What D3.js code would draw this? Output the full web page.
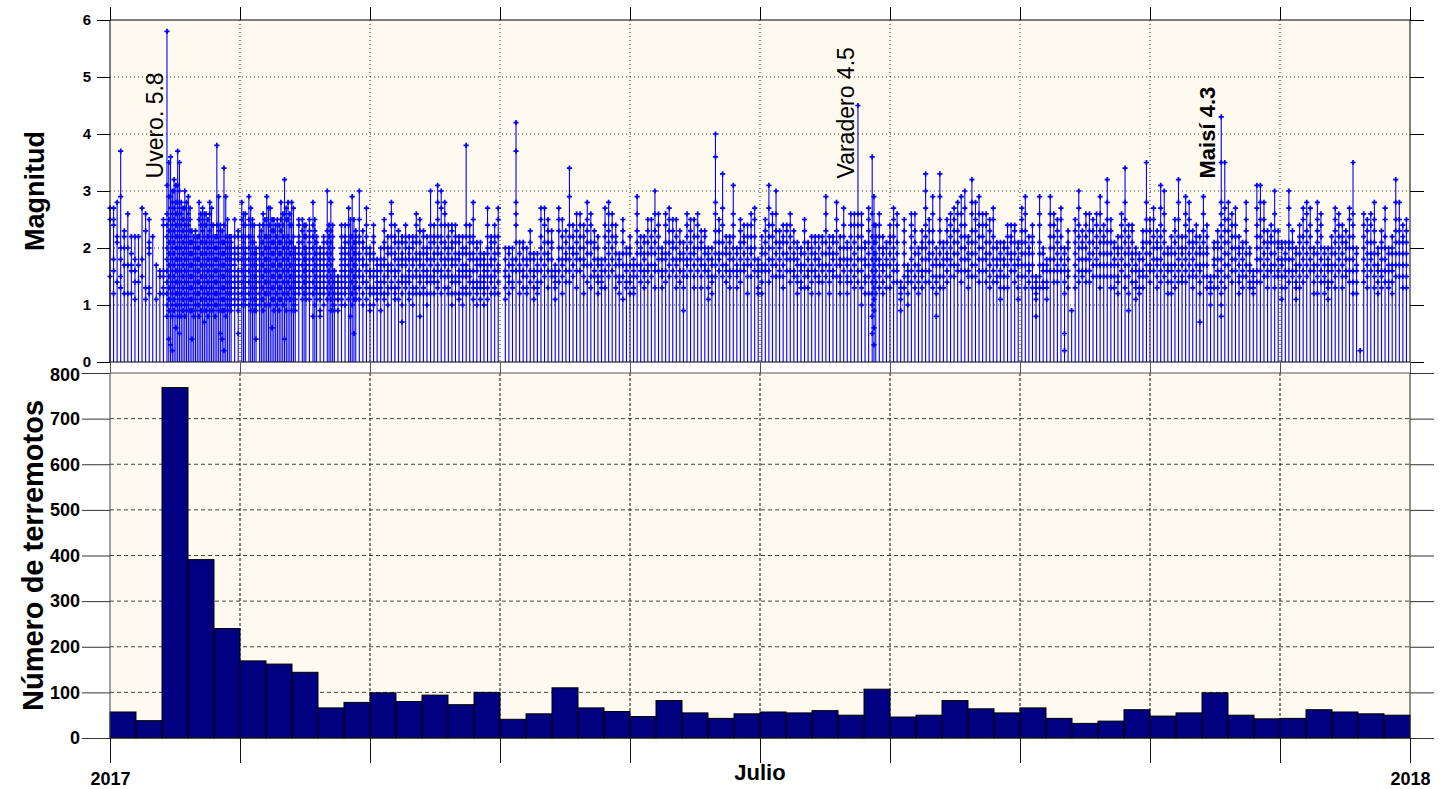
<!DOCTYPE html>
<html><head><meta charset="utf-8">
<script src="https://cdn.jsdelivr.net/npm/d3@7"></script>
<style>body{margin:0;background:#fff}svg{display:block}</style>
</head><body><svg id="c" width="1441" height="789"></svg>
<script>
// ---------------- data ----------------
const yearStart = "2017-01-01", yearEnd = "2018-01-01";
const xTickLabels = ["2017","","","","","","","","","","2018"];
const xTitle = "Julio";
const magTicks = [0,1,2,3,4,5,6];
const countTicks = [0,100,200,300,400,500,600,700,800];
const magTitle = "Magnitud";
const countTitle = "Número de terremotos";
// earthquakes per bin (50 equal bins over the year)
const binCounts = [57,38,768,391,240,169,162,144,66,78,
                   99,80,94,73,100,41,53,110,66,58,
                   47,82,55,43,53,57,55,60,50,107,
                   46,50,82,64,55,66,43,32,37,62,
                   48,55,99,50,42,43,62,57,53,50];
// magnitudes (tenths) recorded each day, day 0 = 1 Jan 2017
const dailyMags = [
"27 25 15","27 25 24 18 16 12","28 22 21 14","37 29 20 18 15 13","23 22 20 17 12","26 20 17 12","22 19 17 16 12","22 18 16 14 11","22 17 14","27 18 15",
"26 23 13 11","25 21 20 19 13 12","22","17 11","16 15 12","25 24 16 15 13 12",
"58 35 31 29 26 25 24 23 22 21 20 19 18 17 16 15 14 13 12 11 10 09 08 04",
"36 30 29 28 27 26 25 24 23 22 21 20 19 18 17 16 15 14 13 12 11 10 09 08 03 02",
"32 31 30 28 27 26 25 24 23 22 21 20 19 18 17 16 15 14 13 12 11 10 09 06",
"37 35 31 30 28 27 26 25 24 23 22 21 20 19 18 17 16 15 14 13 12 11 10 09 08 05",
"28 27 26 25 24 23 22 21 20 19 18 17 16 15 14 13 12 11 10 09 08",
"30 28 27 25 24 23 22 21 20 19 18 17 16 15 14 13 12 11 10 09 08",
"29 27 26 25 24 23 22 21 20 19 18 17 16 15 14 13 12 11 10 09",
"23 22 21 20 19 18 17 16 15 14 13 12 11 10 09 08 04",
"23 22 21 20 19 18 17 16 15 14 13 12 11 10 09",
"28 26 25 24 22 21 20 19 18 17 16 15 14 13 12 11 10 09 08",
"27 26 25 24 23 22 21 20 19 18 17 16 15 14 13 12 11 10 09 07",
"26 25 24 22 21 20 19 18 17 16 15 14 13 12 11 10 09 08",
"28 27 26 24 23 22 21 20 19 18 17 16 15 14 13 12 11 10 09",
"24 22 21 20 19 18 17 16 15 14 13 12 11 10 09 08",
"38 29 24 23 22 21 20 19 18 17 16 15 14 13 12 11 10 09",
"24 23 22 21 20 19 18 17 16 15 14 13 12 11 10 09 05 04",
"34 29 24 22 21 20 19 18 17 16 15 14 13 12 11 10 09 08 02",
"25 22 21 20 19 18 17 16 15 14 13 12 11 10 09",
"22 21 20 19 18 17 16 15 14 13 12 11 10 09",
"25 22 20 19 18 17 16 15 14 13 12 11 10",
"23 22 20 19 18 16 15 14 13 12 11 10 09 05",
"28 26 25 24 22 21 20 19 18 17 16 15 14 13 12 11 10",
"26 24 22 20 19 18 17 16 15 14 13 12 11 10",
"29 27 25 24 22 21 20 19 18 17 16 15 14 13 12 11 10 09",
"25 24 22 21 20 19 18 17 16 15 14 13 12 11 10 09",
"20 19 18 17 16 15 14 13 12 11 10 09 04",
"24 23 22 21 20 19 18 17 16 15 14 13 12 11 10",
"26 25 24 22 21 20 19 18 17 16 15 14 13 12 11 10 09",
"29 27 25 24 22 21 20 19 18 17 16 15 14 13 12 10",
"27 25 24 23 22 21 20 19 18 17 16 15 14 13 12 11 10 06",
"25 24 23 22 21 20 19 18 17 16 15 14 13 12 11 10 09",
"25 24 22 21 20 19 18 17 16 15 14 13 12 11 10 09",
"28 26 25 24 23 22 21 20 19 18 17 16 15 14 13 12 11 10",
"32 27 26 25 22 21 20 19 18 17 16 15 14 13 12 11 10 09 04",
"28 26 25 24 22 21 20 19 18 17 16 15 14 13 12 11",
"28 27 24 22 21 20 19 18 17 16 15 14 13 12 11 10 09",
"20 19 18 17 16 15 14 13 12 11 10 09",
"25 24 22 21 20 19 18 17 16 15 14 13 12",
"25 24 23 22 21 20 19 18 17 16 15 14 13 12 11",
"24 22 20 19 18 17 16 15 14 13 12 11",
"25 23 22 21 20 19 18 17 16 15 14 13 12 11",
"28 25 24 23 22 21 20 19 18 17 16 15 14 13 12 10 08",
"22 21 20 19 18 17 16 15 14 13 12 11",
"20 19 18 17 16 15 14 13 12 11 09 08",
"22 21 20 19 18 17 16 15 14 13 12 10",
"30 24 23 22 21 20 19 18 17 16 15 14 13 12 11",
"28 24 23 22 21 20 19 18 17 16 15 14 13 12 11 10 09",
"16 15 14 13 12 11 10 09","15 14 13 12 11 09",
"24 22 20 19 18 17 16 15 14 13 12 11 10",
"24 22 21 20 19 18 17 16 15 14 13 12 10",
"27 25 24 22 21 20 19 18 17 16 15 14 13 12 11 08",
"29 25 22 21 20 19 18 17 16 15 14 13 12 11 10 05",
"23 22 21 20 19 18 17 16 15 14 13 12 11",
// 70
"30 25 22 21 19 18 16 15 13 11","23 21 20 18 17 15 14 12 10","27 24 22 20 19 17 16 14 13 11","20 19 18 16 15 13 12 10 09","24 22 21 19 18 16 15 13 12 10",
"18 17 16 15 14 13 12 11","20 18 17 16 14 13 12 09","25 23 21 20 18 17 15 14 12 11","22 20 19 17 16 15 13 12 10","28 26 24 22 20 19 17 16 14 13",
"24 22 21 19 18 16 15 13 12 11","23 21 20 18 17 16 14 13 11","22 21 19 18 17 15 14 12 10 07","24 22 21 20 18 17 15 14 13","22 20 19 18 16 15 14 12 11",
"22 21 20 18 17 15 13 12 10","26 24 22 21 19 18 16 15 13 12","25 23 21 19 18 17 15 14 12 08","23 22 20 19 17 16 15 13 12","22 20 19 18 16 15 14 12 10",
"30 24 22 21 20 18 17 15 14 12","24 22 21 19 18 16 15 14 12","31 28 25 22 20 19 17 16 14 13","30 27 24 22 21 19 18 16 15 12","28 26 24 21 20 18 17 15 13",
"24 22 20 19 18 16 15 13 12","24 23 21 20 18 17 15 14 12 10","24 22 21 19 18 17 15 14 12","22 21 19 18 16 15 14 12 11","22 20 19 17 16 15 13 12 10",
// 100
"38 24 22 20 19 17 16 15 13 12","24 22 21 19 18 16 15 14 12","28 25 22 21 19 18 16 14 13 11","21 20 18 17 16 14 13 12 10","21 19 18 17 15 14 13 11",
"19 18 17 16 15 14 13 12 10","27 24 22 20 19 17 16 15 13 11","22 21 20 18 17 15 14 12","24 22 21 19 18 16 15 13 12","27 25 22 20 19 17 16 14 12",
"","20 18 16 15 13 11","20 19 17 15 14 12","20 18 17 16 14 13","42 37 28 26 24 21 18 16",
"21 19 17 16 14 12","21 20 18 16 15 13","20 18 17 15 13 12","23 21 19 18 16 14","19 18 16 15 13 11",
"19 17 16 14 13 12","27 25 22 20 18 16 14","27 24 21 19 17 15","25 23 21 19 18 16 13","23 21 20 18 16 15",
"17 16 15 14 13 11","27 25 23 20 18 16 14","25 22 20 18 17 15 12","23 21 19 18 16 14","34 29 24 22 20 18 16 14",
// 130
"24 22 20 19 17 15","26 23 21 19 18 16 13","26 24 22 20 18 16","24 22 20 18 17 15 12","28 25 23 21 19 17 14",
"26 24 21 19 17 15 13","23 21 20 18 16 15","22 20 18 17 15 14 12","18 17 16 15 14 13","27 24 22 20 18 16 13",
"28 26 23 21 19 17 15","26 24 22 20 18 16","24 22 21 19 17 15 13","19 18 17 15 14 12","25 23 21 19 17 15 11",
"20 19 17 16 14 13","22 20 19 17 15 14 12","18 17 16 15 13 12","29 26 23 21 19 17 15","22 20 19 17 16 14",
"22 21 19 18 16 15 13","25 23 21 19 17 16 14","25 22 20 19 17 15","30 26 23 21 19 17 16 13","26 24 22 20 18 16",
"20 19 18 16 15 13","26 24 21 19 18 16 14","27 25 23 21 19 17 15","25 23 21 20 18 16","25 22 20 18 17 15 13",
// 160
"23 21 19 18 16 14","21 19 18 16 15 13 09","26 24 22 20 18 17 15","25 23 21 19 18 16","25 22 20 19 17 15 13",
"26 24 22 20 18 16","23 21 20 18 17 15 13","23 22 20 19 17 16","20 19 18 16 15 13 11","20 18 17 15 14 12",
"40 36 28 26 23 21 19 17 15","25 23 21 19 18 16","33 27 24 21 19 17 15","22 20 19 17 16 14","22 21 19 18 16 15 13",
"31 26 24 22 20 18 16","20 19 17 16 15 13","25 23 21 20 18 16 14","24 22 21 19 17 16","24 22 20 18 17 15 12",
"26 24 22 20 19 17 15","27 25 22 20 18 16","18 17 16 15 13 12","22 20 19 17 16 14 12","25 23 21 19 17 16",
"31 27 24 22 20 18 16 14","26 24 22 20 18 17 15","30 26 23 21 19 17 15","23 21 20 18 16 15","24 22 21 19 17 15 13",
// 190
"24 23 21 19 18 16","26 24 22 20 18 16 14","23 21 19 18 16 15","21 20 18 17 15 14 12","20 19 17 16 14 13",
"25 23 21 19 17 15 13","21 20 18 16 15 13","22 20 19 17 16 14 12","22 21 19 18 16 15","22 20 18 17 15 14 12",
"22 21 19 17 16 14","29 26 23 21 19 17 15","22 20 19 17 16 14 12","22 21 19 18 16 15","28 25 23 21 19 17 15",
"22 20 18 17 15 14 12","27 24 22 20 18 16","21 20 18 17 15 14 12","26 24 22 20 18 16 14","26 24 21 19 17 15 13",
"45 26 24 22 20 18 16 14","26 24 22 20 18 16 13 10","21 20 18 17 15 14 12","27 25 23 21 19 17 15 12",
"36 29 26 24 22 21 20 19 18 17 16 15 14 13 12 11 10 09 08 06 05 03",
"24 22 21 19 18 16 14 12","26 24 22 20 18 17 15 13","22 20 19 17 16 14 12","21 20 18 17 15 13","24 22 21 19 17 15 13",
// 220
"27 25 22 20 18 16 14","26 24 21 19 17 16 14","14 13 12 11 09","25 23 21 19 17 15 13","17 16 15 14 12 10",
"26 24 22 20 18 16 14","26 23 21 19 17 15 13","20 19 17 16 14 12","23 21 20 18 16 15 13","33 30 27 24 22 20 18 16 14",
"25 23 21 19 18 16 14","29 26 23 21 19 17 15 13","20 18 17 15 14 12 08","33 29 25 23 21 19 17 15 13","21 20 18 17 15 13",
"25 23 21 19 18 16 14","26 24 22 20 18 17 15","27 25 23 21 19 17 15","28 26 23 21 19 17 16","29 26 24 22 20 18 16 14",
"30 27 24 22 20 18 16","22 21 19 18 16 15 13","32 28 26 23 21 19 17 15","28 25 23 21 19 17 15","29 26 24 22 20 18 16 14",
"26 24 22 20 18 16","26 24 21 19 18 16 14","25 23 21 19 17 15 13","27 25 22 20 18 16 14","21 20 18 17 15 14",
// 250
"21 19 18 16 15 13 11","21 20 18 17 15 13","24 22 20 19 17 15 13","24 22 21 19 18 16","24 23 21 19 17 16 14",
"21 20 18 17 15 13 11","27 25 23 21 19 17 15","29 26 23 21 19 17 15 13","22 20 19 17 16 14","24 22 21 19 17 15 13",
"15 14 13 12 11 08","29 26 24 21 19 17 15 13","20 19 17 16 14 13","18 17 16 14 13 11","29 26 24 22 20 18 16",
"26 24 22 20 18 16 14","25 23 21 19 17 16 14","27 25 22 20 18 16","20 19 17 16 14 12 05 02","23 21 20 18 16 15 13",
"09","25 23 21 19 17 15 13","30 27 24 22 20 18 16 14","23 21 20 18 16 15","26 24 22 20 18 16 14",
"26 23 21 19 18 16 14","25 23 21 19 17 15","26 24 22 20 18 17 15","29 26 23 21 19 17 15 13","24 22 21 19 17 15",
// 280
"32 28 25 23 21 19 17 15","25 23 21 19 17 15 13","21 20 18 17 15 13","22 20 19 17 15 14 12","26 24 22 20 18 16",
"34 28 25 23 21 19 17 15 13","24 22 20 19 17 15 12 09","24 23 21 19 18 16 14","20 19 17 16 14 13 11","19 18 16 15 13 12",
"23 21 20 18 16 15 13","35 28 25 23 21 19 17 15","25 23 21 19 17 16 14","27 25 22 20 18 16","23 21 20 18 17 15 13",
"31 27 24 22 20 18 16 14","30 26 23 21 19 17 15","20 19 17 16 14 12","22 20 19 17 16 14 12","25 23 21 19 17 15 13",
"32 28 25 22 20 18 16 14","22 20 19 17 15 14","29 26 24 22 20 18 16 14","28 25 23 21 19 17 15","23 21 20 18 16 15 13",
"24 22 21 19 17 15","22 20 19 17 16 14 12 07","29 26 23 21 19 17 15","24 22 20 19 17 15 13","15 14 13 12 10",
// 310
"21 20 18 17 15 13","23 21 20 18 16 15 13","43 35 28 26 24 22 20 18 16 14 12 10 08","35 27 25 23 21 19 17 15 13","28 25 23 21 19 17 15",
"26 24 22 20 18 16 14","27 24 22 20 18 16","22 20 19 17 15 14 12","21 20 18 16 15 13","28 25 23 21 19 17 15",
"20 19 17 16 14 13","16 15 14 13 12","31 27 24 22 20 18 16 14","31 28 25 22 20 18 16 14","28 25 23 21 19 17 15",
"23 21 20 18 16 15 13","24 22 21 19 17 16","30 26 23 21 19 17 15 13","23 21 20 18 16 15","21 20 18 17 15 13 11",
"21 19 18 16 15 13","30 27 24 21 20 18 16 14","23 21 20 18 16 15","20 19 17 16 14 13 11","24 22 21 19 17 15 13",
"27 25 22 20 18 16 14","28 26 23 21 19 17 15","27 24 22 20 18 16","20 19 17 16 14 12","28 25 23 21 19 17 15 12",
// 340
"26 24 22 20 18 16 14","20 19 17 15 14 12","20 18 17 16 14 13 11","22 20 19 17 16 14","27 25 23 21 19 17 15 13",
"26 24 22 20 18 16","24 22 21 19 17 15 13","23 21 20 18 16 15","27 25 22 20 18 16 14","35 26 24 22 20 18 16 14 12",
"20 19 17 16 14 12","02","26 24 22 20 18 16 14","25 23 21 19 17 15 13","26 24 21 19 18 16",
"28 25 23 21 19 17 15 13","20 19 17 16 14 12","23 21 20 18 16 15 13","27 25 22 20 18 16 14","20 19 17 16 14 13",
"22 20 19 17 16 14 12","32 28 25 23 21 19 17 15","28 25 23 21 19 17 15","24 22 21 19 17 15 13","25 23 21 19 17 15 13"
];
const annotations = [
  {text:"Uvero. 5.8", day:16, bold:false},
  {text:"Varadero 4.5", day:210, bold:false},
  {text:"Maisí 4.3", day:312, bold:true}
];

// ---------------- layout ----------------
const L = 110, R = 1410;
const T1 = 20, B1 = 362, T2 = 373, B2 = 738;
const cream = "#FFFAF0";
const FONT = "Liberation Sans, Arial, sans-serif";
const svg = d3.select("#c");
const parse = d3.utcParse("%Y-%m-%d");
const t0 = parse(yearStart), t1 = parse(yearEnd);
const span = t1 - t0, DAY = 864e5;
const x = d3.scaleUtc().domain([t0, t1]).range([L, R]);
const xTicks = xTickLabels.map((_, i) => new Date(+t0 + span * i / (xTickLabels.length - 1)));
const yMag = d3.scaleLinear().domain([0, 6]).range([B1, T1]);
const yCnt = d3.scaleLinear().domain([0, 800]).range([B2, T2]);

// ---------------- top panel ----------------
const g1 = svg.append("g");
g1.append("rect").attr("x", L).attr("y", T1).attr("width", R - L).attr("height", B1 - T1).attr("fill", cream);
g1.selectAll("line.hg").data(magTicks.slice(1, -1)).join("line")
  .attr("x1", L).attr("x2", R).attr("y1", d => yMag(d)).attr("y2", d => yMag(d))
  .attr("stroke", "#333").attr("stroke-dasharray", "1,3");
g1.selectAll("line.vg").data(xTicks.slice(1, -1)).join("line")
  .attr("x1", d => x(d)).attr("x2", d => x(d)).attr("y1", T1).attr("y2", B1)
  .attr("stroke", "#333").attr("stroke-dasharray", "1,3");

// events -> columns
const cols = [];
dailyMags.forEach((s, d) => {
  if (!s.trim()) return;
  const m = s.trim().split(/\s+/).map(v => +v / 10).sort((a, b) => b - a);
  const nCol = m.length >= 15 ? 2 : 1;
  for (let c = 0; c < nCol; c++) {
    const mm = m.filter((_, i) => i % nCol === c);
    cols.push({date: new Date(+t0 + (d + c / nCol) * DAY), mags: mm});
  }
});
g1.append("g").selectAll("line").data(cols).join("line")
  .attr("x1", d => x(d.date)).attr("x2", d => x(d.date))
  .attr("y1", yMag(0)).attr("y2", d => yMag(d.mags[0]))
  .attr("stroke", "#0000FF").attr("stroke-width", 1.1);
const sym = d3.symbol(d3.symbolCross, 15);
const pts = cols.flatMap(c => c.mags.map(m => ({date: c.date, m})));
g1.append("g").selectAll("path").data(pts).join("path")
  .attr("transform", d => `translate(${x(d.date)},${yMag(d.m)})`)
  .attr("d", sym).attr("fill", "#0000FF");

// frame + axes (top)
const frame1 = g1.append("g").attr("stroke", "#000").attr("fill", "none");
frame1.append("line").attr("x1", L).attr("x2", R).attr("y1", T1).attr("y2", T1);
frame1.append("line").attr("x1", L).attr("x2", R).attr("y1", B1).attr("y2", B1);
frame1.append("line").attr("x1", L).attr("x2", L).attr("y1", T1).attr("y2", B1);
frame1.append("line").attr("x1", R).attr("x2", R).attr("y1", T1).attr("y2", B1);

function style(ax, col) {
  ax.select(".domain").remove();
  ax.selectAll(".tick line").attr("stroke", col || "#000");
}
const ay1 = g1.append("g").attr("transform", `translate(${L},0)`)
  .call(d3.axisLeft(yMag).tickValues(magTicks).tickSize(13).tickPadding(6).tickFormat(d3.format("d")));
style(ay1);
ay1.selectAll("text").attr("font-family", FONT).attr("font-weight", "bold").attr("font-size", 15).attr("fill", "#000");
const ay1r = g1.append("g").attr("transform", `translate(${R},0)`)
  .call(d3.axisRight(yMag).tickValues(magTicks).tickSize(14).tickFormat(""));
style(ay1r);
const ax1t = g1.append("g").attr("transform", `translate(0,${T1})`)
  .call(d3.axisTop(x).tickValues(xTicks).tickSize(13).tickFormat(""));
style(ax1t);
const ax1b = g1.append("g").attr("transform", `translate(0,${B1})`)
  .call(d3.axisBottom(x).tickValues(xTicks).tickSize(8).tickFormat(""));
style(ax1b, "#555");

// annotations
annotations.forEach(a => {
  const xx = x(new Date(+t0 + a.day * DAY)) - (a.bold ? 6 : 4);
  const yy = yMag(3.22);
  g1.append("text").attr("transform", `translate(${xx},${yy}) rotate(-90)`)
    .attr("font-family", FONT)
    .attr("font-size", a.bold ? 22 : 23).attr("font-weight", a.bold ? "bold" : "normal")
    .attr("fill", "#000").text(a.text);
});
svg.append("text").attr("transform", `translate(44,${(T1 + B1) / 2}) rotate(-90)`)
  .attr("text-anchor", "middle").attr("font-family", FONT)
  .attr("font-weight", "bold").attr("font-size", 27).text(magTitle);

// ---------------- bottom panel ----------------
const g2 = svg.append("g");
g2.append("rect").attr("x", L).attr("y", T2).attr("width", R - L).attr("height", B2 - T2).attr("fill", cream);
g2.selectAll("line.hg").data(countTicks.slice(1, -1)).join("line")
  .attr("x1", L).attr("x2", R).attr("y1", d => yCnt(d)).attr("y2", d => yCnt(d))
  .attr("stroke", "#444").attr("stroke-dasharray", "4,3");
g2.selectAll("line.vg").data(xTicks.slice(1, -1)).join("line")
  .attr("x1", d => x(d)).attr("x2", d => x(d)).attr("y1", T2).attr("y2", B2)
  .attr("stroke", "#111").attr("stroke-dasharray", "3,2");
const nb = binCounts.length;
g2.append("g").selectAll("rect").data(binCounts).join("rect")
  .attr("x", (d, i) => x(new Date(+t0 + span * i / nb)))
  .attr("width", (d, i) => x(new Date(+t0 + span * (i + 1) / nb)) - x(new Date(+t0 + span * i / nb)))
  .attr("y", d => yCnt(d)).attr("height", d => yCnt(0) - yCnt(d))
  .attr("fill", "#000080").attr("stroke", "#000").attr("stroke-width", 1);
const frame2 = g2.append("g").attr("fill", "none");
frame2.append("line").attr("x1", L).attr("x2", R).attr("y1", T2).attr("y2", T2).attr("stroke", "#555");
frame2.append("line").attr("x1", L).attr("x2", R).attr("y1", B2).attr("y2", B2).attr("stroke", "#222");
frame2.append("line").attr("x1", L).attr("x2", L).attr("y1", T2).attr("y2", B2).attr("stroke", "#444");
frame2.append("line").attr("x1", R).attr("x2", R).attr("y1", T2).attr("y2", B2).attr("stroke", "#222");

const ay2 = g2.append("g").attr("transform", `translate(${L},0)`)
  .call(d3.axisLeft(yCnt).tickValues(countTicks).tickSize(28).tickPadding(2));
style(ay2, "#333");
ay2.selectAll("text").attr("font-family", FONT).attr("font-weight", "bold").attr("font-size", 18).attr("fill", "#000");
ay2.selectAll(".tick").filter(d => d === 800).select("text").attr("dy", "0.42em");
const ay2r = g2.append("g").attr("transform", `translate(${R},0)`)
  .call(d3.axisRight(yCnt).tickValues(countTicks).tickSize(24).tickFormat(""));
style(ay2r, "#333");
const ax2t = g2.append("g").attr("transform", `translate(0,${T2})`)
  .call(d3.axisTop(x).tickValues(xTicks).tickSize(10).tickFormat(""));
style(ax2t, "#555");
const ax2b = g2.append("g").attr("transform", `translate(0,${B2})`)
  .call(d3.axisBottom(x).tickValues(xTicks).tickSize(25).tickPadding(9).tickFormat((d, i) => xTickLabels[i]));
style(ax2b, "#111");
ax2b.selectAll("text").attr("font-family", FONT).attr("font-weight", "bold").attr("font-size", 18).attr("fill", "#000");

svg.append("text").attr("x", x(xTicks[5])).attr("y", 780).attr("text-anchor", "middle")
  .attr("font-family", FONT).attr("font-weight", "bold").attr("font-size", 22).text(xTitle);
svg.append("text").attr("transform", `translate(43,${(T2 + B2) / 2}) rotate(-90)`)
  .attr("text-anchor", "middle").attr("font-family", FONT)
  .attr("font-weight", "bold").attr("font-size", 29).text(countTitle);
</script></body></html>
